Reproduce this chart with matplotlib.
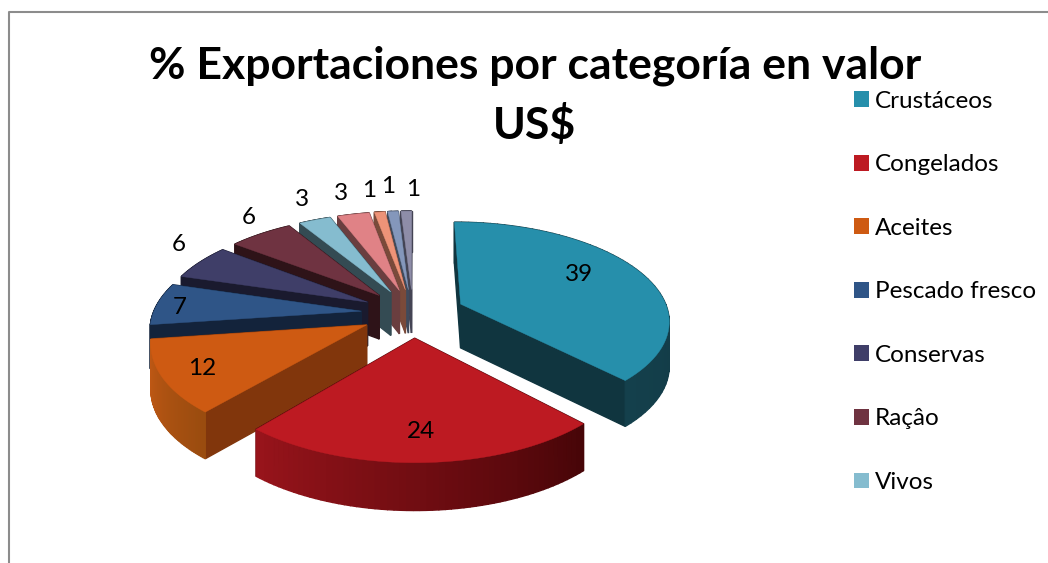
import numpy as np
import matplotlib
matplotlib.use("Agg")
import matplotlib.pyplot as plt
from matplotlib.patches import Polygon, Patch
from matplotlib.colors import to_rgb


values = [39, 24, 12, 7, 6, 6, 3, 3, 1, 1, 1]
legend_labels = ["Crustáceos", "Congelados", "Aceites", "Pescado fresco",
                 "Conservas", "Raçâo", "Vivos"]

top_colors = ["#268FAB", "#BD1A22", "#CE5A12", "#2F5587", "#3F3E68", "#6F3341",
              "#85BCCF", "#E08286", "#EE9378", "#8497BB", "#8E8DA8"]
edge_colors = ["#10353F", "#470508", "#81360C", "#13233B", "#1A1A2E", "#2E1318",
               "#344B53", "#6A3E3F", "#7A4A3A", "#3F4A5C", "#444454"]
arc_left_colors = ["#14404C", "#98141B", "#C65A15", "#13233B", "#1A1A2E", "#2E1318",
                   "#344B53", "#6A3E3F", "#7A4A3A", "#3F4A5C", "#444454"]
arc_right_colors = ["#0E313A", "#470508", "#9A4C0F", "#13233B", "#1A1A2E", "#2E1318",
                    "#344B53", "#6A3E3F", "#7A4A3A", "#3F4A5C", "#444454"]

# label radius as a fraction of the slice radius, >1 means outside
label_radius = [0.70, 0.78, 0.82, 0.88, 1.24, 1.24, 1.32, 1.33, 1.33, 1.38, 1.33]
# label angle shift from the slice middle, degrees
label_shift = [-6, 0, -1, -2, 6, 4, 2, 0, -1, 0, 2]

# projection of the ground plane, fitted by eye to the picture
CX, CY = 413, 313
SCALE_X, SCALE_Y = 208, 97
PERSP = 0.152
EXPLODE = 0.25
DEPTH = 44


def project(u, v):
    w = 1 / (1 - PERSP * v)
    return CX + SCALE_X * u * w, CY + SCALE_Y * v * w


def drop(v):
    w = 1 / (1 - PERSP * v)
    return DEPTH * w ** 0.4


def ground(angle, r, off):
    # angle clockwise from 12 o'clock, v grows towards the viewer
    return off[0] + r * np.sin(angle), off[1] - r * np.cos(angle)


def quad(p, q):
    x1, y1 = project(*p)
    x2, y2 = project(*q)
    return [(x1, y1), (x2, y2), (x2, y2 + drop(q[1])), (x1, y1 + drop(p[1]))]


def mix(a, b, t):
    return tuple((1 - t) * np.array(to_rgb(a)) + t * np.array(to_rgb(b)))


def draw_slice(ax, start, sweep, i, zorder):
    mid = start + sweep / 2
    off = (EXPLODE * np.sin(mid), -EXPLODE * np.cos(mid))
    angles = np.linspace(start, start + sweep, 60)
    arc = [ground(a, 1, off) for a in angles]

    walls = [(off[1] + arc[0][1], quad(off, arc[0]), edge_colors[i]),
             (off[1] + arc[-1][1], quad(off, arc[-1]), edge_colors[i])]
    for n in range(len(arc) - 1):
        t = n / (len(arc) - 2)
        col = mix(arc_right_colors[i], arc_left_colors[i], t)
        walls.append((2 * arc[n][1], quad(arc[n], arc[n + 1]), col))
    walls.sort(key=lambda item: item[0])
    for _, pts, col in walls:
        ax.add_patch(Polygon(pts, closed=True, fc=col, ec=col, lw=1.0, zorder=zorder))

    top = [project(*off)] + [project(*p) for p in arc]
    ax.add_patch(Polygon(top, closed=True, fc=top_colors[i], ec=top_colors[i], lw=0.3,
                         zorder=zorder + 0.5))

    lx, ly = project(*ground(mid + np.radians(label_shift[i]), label_radius[i], off))
    ax.text(lx, ly, str(values[i]), fontsize=17.5, family="Lato", ha="center", va="center",
            color="black", zorder=50)


fig = plt.figure(figsize=(10.48, 5.63), dpi=100)
ax = fig.add_axes([0, 0, 1, 1])
ax.set_xlim(0, 1048)
ax.set_ylim(563, 0)
ax.axis("off")

# chart border, only top and left are inside the crop
ax.plot([1048, 9, 9], [11.5, 11.5, 563], color="#8C8C8C", lw=1.5)

sweeps = 2 * np.pi * np.array(values) / sum(values)
starts = np.concatenate([[0], np.cumsum(sweeps)[:-1]])
order = np.argsort(-np.cos(starts + sweeps / 2))
for z, i in enumerate(order):
    draw_slice(ax, starts[i], sweeps[i], i, 2 + z)

ax.text(535, 66, "% Exportaciones por categoría en valor", fontsize=32, fontweight="bold",
        family="Lato", ha="center", va="center", color="black", zorder=60)
ax.text(535, 125, "US$", fontsize=32, fontweight="bold",
        family="Lato", ha="center", va="center", color="black", zorder=60)

handles = [Patch(fc=top_colors[i], ec="none") for i in range(len(legend_labels))]
ax.legend(handles, legend_labels, loc="upper left", bbox_to_anchor=(844 / 1048, 1 - 81 / 563),
          frameon=False, prop={"family": "Lato", "size": 17.5}, labelspacing=1.75,
          handlelength=0.62, handleheight=0.62, handletextpad=0.24, borderpad=0, borderaxespad=0.4)

fig.savefig("out.png", dpi=100)
